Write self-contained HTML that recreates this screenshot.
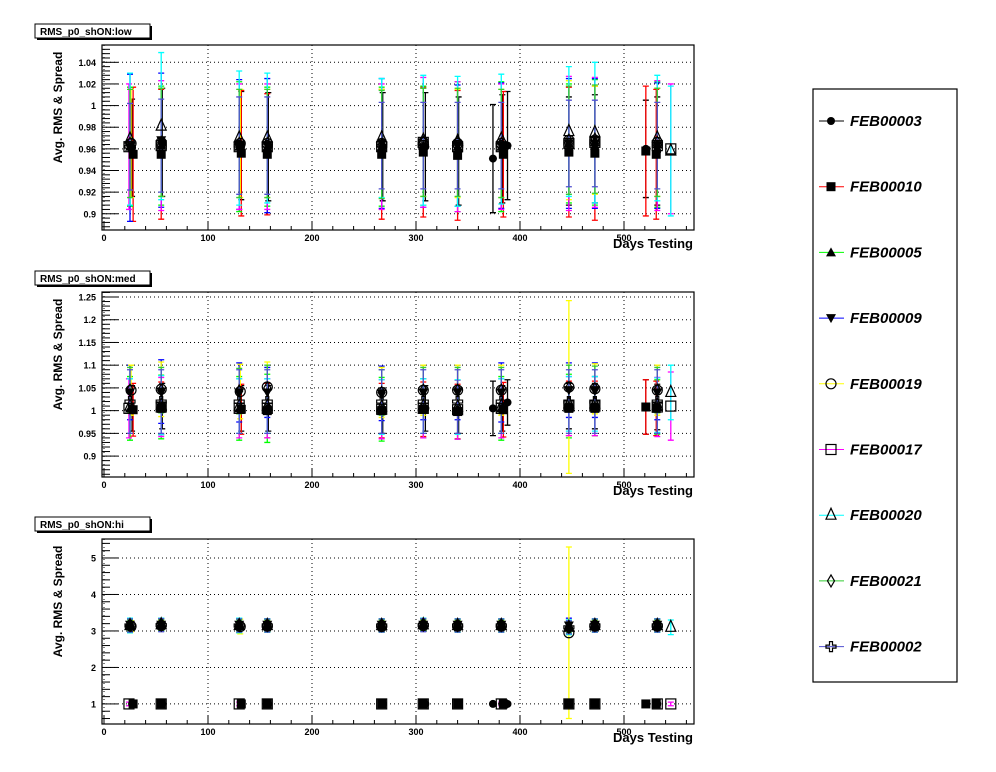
<!DOCTYPE html>
<html><head><meta charset="utf-8"><style>
html,body{margin:0;padding:0;background:#fff;}
svg{display:block;font-family:"Liberation Sans",Arial,sans-serif;}
</style></head><body>
<svg id="c" width="996" height="772" xmlns="http://www.w3.org/2000/svg"></svg>
<script>
const seriesNames=["FEB00003","FEB00010","FEB00005","FEB00009","FEB00019","FEB00017","FEB00020","FEB00021","FEB00002"];
const seriesColors=["#000000","#ff0000","#00ff00","#0000ff","#ffff00","#ff00ff","#00ffff","#33cc33","#5050d0"];
const seriesMarkers=["fcircle","fsquare","ftri","fdtri","ocircle","osquare","otri","odiamond","ocross"];
const seriesDays=[
[27,56,132,158,268,309,341,374,383,388,447,472,521,532],
[28,55,132,157,267,307,340,384,447,472,521,531],
[25,55,130,157,267,307,340,382,447,472,532],
[25,55,130,157,267,307,340,382,447,472,532],
[26,55,131,157,267,307,340,382,447,472,532],
[24,55,130,157,267,307,340,382,447,472,532,545],
[25,55,130,157,267,307,340,382,447,472,532,545],
[25,55,130,157,267,307,340,382,447,472,532],
[25,55,130,157,267,307,340,382,447,472,532]];
const lowMean=[
[0.961,0.966,0.963,0.962,0.962,0.962,0.958,0.951,0.960,0.963,0.958,0.960,0.960,0.958],
[0.955,0.955,0.956,0.955,0.955,0.957,0.954,0.955,0.957,0.956,0.958,0.955],
[0.962,0.963,0.962,0.962,0.962,0.963,0.962,0.962,0.965,0.966,0.964],
[0.961,0.968,0.964,0.963,0.965,0.961,0.963,0.963,0.965,0.965,0.963],
[0.965,0.966,0.965,0.965,0.965,0.966,0.965,0.965,0.968,0.968,0.966],
[0.962,0.963,0.962,0.962,0.962,0.966,0.962,0.962,0.965,0.966,0.963,0.960],
[0.969,0.981,0.970,0.970,0.970,0.968,0.967,0.969,0.976,0.975,0.970,0.958],
[0.965,0.966,0.965,0.965,0.964,0.966,0.966,0.965,0.968,0.969,0.966],
[0.962,0.963,0.963,0.963,0.963,0.963,0.963,0.963,0.965,0.965,0.963]];
const lowSpread=[
[0.045,0.05,0.05,0.05,0.05,0.05,0.05,0.05,0.05,0.05,0.05,0.05,0.045,0.05],
[0.062,0.06,0.058,0.056,0.06,0.06,0.06,0.058,0.06,0.062,0.06,0.06],
[0.055,0.055,0.06,0.055,0.055,0.055,0.06,0.06,0.055,0.058,0.058],
[0.068,0.062,0.06,0.062,0.06,0.055,0.056,0.058,0.06,0.06,0.058],
[0.05,0.05,0.05,0.05,0.05,0.05,0.05,0.05,0.055,0.05,0.05],
[0.058,0.06,0.058,0.058,0.058,0.06,0.06,0.058,0.062,0.06,0.06,0.06],
[0.061,0.068,0.062,0.06,0.055,0.06,0.06,0.06,0.06,0.065,0.058,0.06],
[0.05,0.05,0.05,0.05,0.05,0.05,0.05,0.05,0.05,0.05,0.05],
[0.04,0.043,0.045,0.045,0.04,0.04,0.04,0.04,0.04,0.04,0.04]];
const medMean=[
[1.005,1.01,1.005,1.005,1.0,1.005,1.0,1.005,1.005,1.018,1.01,1.01,1.008,1.008],
[1.002,1.005,1.003,1.0,1.0,1.003,0.998,1.002,1.005,1.005,1.008,1.005],
[1.005,1.008,1.005,1.005,1.003,1.005,1.002,1.005,1.01,1.01,1.008],
[1.04,1.042,1.04,1.04,1.038,1.04,1.04,1.04,1.045,1.045,1.04],
[1.045,1.047,1.042,1.052,1.04,1.045,1.045,1.045,1.052,1.048,1.045],
[1.005,1.008,1.005,1.005,1.003,1.005,1.002,1.005,1.01,1.01,1.008,1.01],
[1.01,1.012,1.01,1.01,1.008,1.01,1.008,1.01,1.015,1.015,1.012,1.04],
[1.045,1.045,1.043,1.05,1.04,1.045,1.045,1.045,1.05,1.048,1.045],
[1.02,1.02,1.02,1.02,1.02,1.02,1.02,1.02,1.02,1.02,1.02]];
const medSpread=[
[0.05,0.05,0.05,0.05,0.05,0.05,0.05,0.06,0.05,0.05,0.05,0.05,0.06,0.05],
[0.058,0.058,0.055,0.06,0.06,0.06,0.06,0.06,0.06,0.06,0.06,0.06],
[0.07,0.07,0.07,0.075,0.07,0.065,0.065,0.07,0.07,0.065,0.06],
[0.06,0.07,0.065,0.055,0.06,0.06,0.06,0.065,0.06,0.06,0.06],
[0.055,0.06,0.06,0.055,0.055,0.055,0.055,0.055,0.19,0.055,0.055],
[0.065,0.065,0.065,0.065,0.065,0.065,0.065,0.065,0.065,0.065,0.065,0.075],
[0.06,0.065,0.06,0.06,0.06,0.06,0.06,0.06,0.06,0.06,0.06,0.06],
[0.05,0.05,0.05,0.05,0.05,0.05,0.05,0.05,0.05,0.05,0.05],
[0.07,0.07,0.07,0.07,0.07,0.07,0.07,0.07,0.07,0.07,0.07]];
const hiMean=[
[1.0,1.0,1.0,1.0,1.0,1.0,1.0,1.0,1.0,1.0,1.0,1.0,1.0,1.0],
[1.0,1.0,1.0,1.0,1.0,1.0,1.0,1.0,1.0,1.0,1.0,1.0],
[3.15,3.17,3.15,3.15,3.15,3.17,3.15,3.15,3.1,3.15,3.15],
[3.17,3.17,3.17,3.17,3.17,3.17,3.17,3.17,3.15,3.17,3.17],
[3.13,3.15,3.12,3.13,3.12,3.15,3.13,3.13,2.95,3.13,3.13],
[1.0,1.0,1.0,1.0,1.0,1.0,1.0,1.0,1.0,1.0,1.0,1.0],
[3.15,3.17,3.15,3.15,3.15,3.17,3.15,3.15,3.1,3.15,3.15,3.1],
[3.15,3.16,3.15,3.15,3.15,3.16,3.15,3.15,3.1,3.15,3.15],
[3.15,3.16,3.15,3.15,3.15,3.16,3.15,3.15,3.1,3.15,3.15]];
const hiSpread=[
[0.05,0.05,0.05,0.05,0.05,0.05,0.05,0.05,0.05,0.05,0.05,0.05,0.05,0.05],
[0.05,0.05,0.05,0.05,0.05,0.05,0.05,0.05,0.05,0.05,0.05,0.05],
[0.2,0.18,0.2,0.18,0.18,0.18,0.18,0.18,0.2,0.18,0.18],
[0.18,0.15,0.15,0.15,0.15,0.15,0.15,0.15,0.2,0.15,0.15],
[0.15,0.15,0.2,0.15,0.15,0.15,0.15,0.15,2.35,0.15,0.15],
[0.05,0.05,0.05,0.05,0.05,0.05,0.05,0.05,0.05,0.05,0.05,0.05],
[0.2,0.18,0.2,0.18,0.18,0.18,0.18,0.18,0.2,0.18,0.18,0.2],
[0.15,0.15,0.15,0.15,0.15,0.15,0.15,0.15,0.15,0.15,0.15],
[0.18,0.18,0.18,0.18,0.18,0.18,0.18,0.18,0.18,0.18,0.18]];
const lowTicks=[0.9,0.92,0.94,0.96,0.98,1,1.02,1.04];
const lowTickLabels=["0.9","0.92","0.94","0.96","0.98","1","1.02","1.04"];
const medTicks=[0.9,0.95,1,1.05,1.1,1.15,1.2,1.25];
const medTickLabels=["0.9","0.95","1","1.05","1.1","1.15","1.2","1.25"];
const hiTicks=[1,2,3,4,5];
const hiTickLabels=["1","2","3","4","5"];
const xTicks=[0,100,200,300,400,500];
const xTickLabels=["0","100","200","300","400","500"];

const NS="http://www.w3.org/2000/svg";
const svg=document.getElementById('c');
function mk(tag,attrs,parent){const e=document.createElementNS(NS,tag);for(const k in attrs)e.setAttribute(k,attrs[k]);(parent||svg).appendChild(e);return e;}

const panels=[
{name:"low",title:"RMS_p0_shON:low",top:45,bot:230,ymin:0.885,ymax:1.056,ticks:lowTicks,labels:lowTickLabels,minor:0.004,mean:lowMean,spread:lowSpread,ty:24},
{name:"med",title:"RMS_p0_shON:med",top:292,bot:477,ymin:0.854,ymax:1.261,ticks:medTicks,labels:medTickLabels,minor:0.01,mean:medMean,spread:medSpread,ty:271},
{name:"hi",title:"RMS_p0_shON:hi",top:539,bot:724,ymin:0.45,ymax:5.52,ticks:hiTicks,labels:hiTickLabels,minor:0.2,mean:hiMean,spread:hiSpread,ty:517}];
const L=102,R=694,X0=104,PX=1.04;
function xs(d){return X0+d*PX;}

function marker(g,type,x,y,color){
  const s=4.5;let e;
  if(type==="fcircle")e=mk('circle',{cx:x,cy:y,r:4,fill:'#000'},g);
  else if(type==="fsquare")e=mk('rect',{x:x-4.5,y:y-4.5,width:9,height:9,fill:'#000'},g);
  else if(type==="ftri")e=mk('polygon',{points:`${x},${y-5} ${x-5},${y+4} ${x+5},${y+4}`,fill:'#000'},g);
  else if(type==="fdtri")e=mk('polygon',{points:`${x},${y+5} ${x-5},${y-4} ${x+5},${y-4}`,fill:'#000'},g);
  else if(type==="ocircle")e=mk('circle',{cx:x,cy:y,r:5,fill:'none',stroke:'#000','stroke-width':1.2},g);
  else if(type==="osquare")e=mk('rect',{x:x-5,y:y-5,width:10,height:10,fill:'none',stroke:'#000','stroke-width':1.2},g);
  else if(type==="otri")e=mk('polygon',{points:`${x},${y-7} ${x-5},${y+4} ${x+5},${y+4}`,fill:'none',stroke:'#000','stroke-width':1.2},g);
  else if(type==="odiamond")e=mk('polygon',{points:`${x},${y-6} ${x-3.5},${y} ${x},${y+6} ${x+3.5},${y}`,fill:'none',stroke:'#000','stroke-width':1.2},g);
  else e=mk('path',{d:`M${x-1.5},${y-5}h3v3.5h3.5v3h-3.5v3.5h-3v-3.5h-3.5v-3h3.5z`,fill:'none',stroke:'#000','stroke-width':1.2},g);
  return e;
}

panels.forEach(p=>{
  const ys=v=>p.bot-(v-p.ymin)/(p.ymax-p.ymin)*(p.bot-p.top);
  const g=mk('g',{});
  
  
  // grid
  xTicks.forEach(t=>{const l=mk('line',{x1:xs(t),x2:xs(t),y1:p.top,y2:p.bot,stroke:'#000','stroke-dasharray':'1,3','stroke-width':1},g);
    });
  p.ticks.forEach(t=>{const l=mk('line',{x1:L,x2:R,y1:ys(t),y2:ys(t),stroke:'#000','stroke-dasharray':'1,3','stroke-width':1},g);
    });
  // frame
  const fr=mk('rect',{x:L,y:p.top,width:R-L,height:p.bot-p.top,fill:'none',stroke:'#000','stroke-width':1.2},g);
  
  // x ticks
  for(let d=0;d*PX+X0<=R;d+=20){const major=d%100===0;mk('line',{x1:xs(d),x2:xs(d),y1:p.bot,y2:p.bot-(major?8:4),stroke:'#000'},g);}
  xTicks.forEach((t,i)=>{const tx=mk('text',{x:xs(t),y:p.bot+11,'font-size':9,'font-weight':'bold','text-anchor':'middle'},g);tx.textContent=xTickLabels[i];
    });
  // y ticks
  const start=Math.ceil(p.ymin/p.minor)*p.minor;
  for(let v=start;v<=p.ymax;v+=p.minor){const isMaj=p.ticks.some(t=>Math.abs(t-v)<p.minor/3);mk('line',{x1:L,x2:L+(isMaj?16:8),y1:ys(v),y2:ys(v),stroke:'#000'},g);}
  p.ticks.forEach((t,i)=>{const tx=mk('text',{x:L-6,y:ys(t)+3.5,'font-size':9,'font-weight':'bold','text-anchor':'end'},g);tx.textContent=p.labels[i];
    });
  // axis titles
  const yt=mk('text',{x:0,y:0,'font-size':12,'font-weight':'bold','text-anchor':'middle',transform:`translate(62,${(p.top+p.bot)/2-30}) rotate(-90)`},g);
  yt.textContent="Avg. RMS & Spread";
  const xt=mk('text',{x:693,y:p.bot+18,'font-size':13,'font-weight':'bold','text-anchor':'end'},g);
  xt.textContent="Days Testing";
  // title box
  const tg=mk('g',{},g);
  mk('rect',{x:37,y:p.ty+2,width:115,height:14,fill:'#000'},tg);
  mk('rect',{x:35,y:p.ty,width:115,height:14,fill:'#fff',stroke:'#000'},tg);
  const tt=mk('text',{x:40,y:p.ty+11,'font-size':10,'font-weight':'bold'},tg);tt.textContent=p.title;
  // error bars
  seriesNames.forEach((n,si)=>{
    const sg=mk('g',{},g);
    seriesDays[si].forEach((d,j)=>{
      const x=xs(d),m=p.mean[si][j],s=p.spread[si][j];
      const y1=ys(m+s),y2=ys(m-s),c=seriesColors[si];
      const b=mk('path',{d:`M${x},${y1}V${y2}M${x-3},${y1}h6M${x-3},${y2}h6`,stroke:c,'stroke-width':1.3,fill:'none'},sg);
      
    });
  });
  seriesNames.forEach((n,si)=>{
    seriesDays[si].forEach((d,j)=>{
      const e=marker(g,seriesMarkers[si],xs(d),ys(p.mean[si][j]));
      
    });
  });
});

// legend
const lg=mk('g',{});
mk('rect',{x:813,y:89,width:144,height:593,fill:'#fff',stroke:'#000','stroke-width':1.2},lg);
seriesNames.forEach((n,i)=>{
  const y=121+i*65.7;
  const eg=mk('g',{},lg);
  mk('line',{x1:819,x2:844,y1:y,y2:y,stroke:seriesColors[i],'stroke-width':1},eg);
  const m=marker(eg,seriesMarkers[i],831,y);
  const t=mk('text',{x:850,y:y+5,'font-size':15,'font-weight':'bold','font-style':'italic'},eg);t.textContent=n;
});
</script>
</body></html>
